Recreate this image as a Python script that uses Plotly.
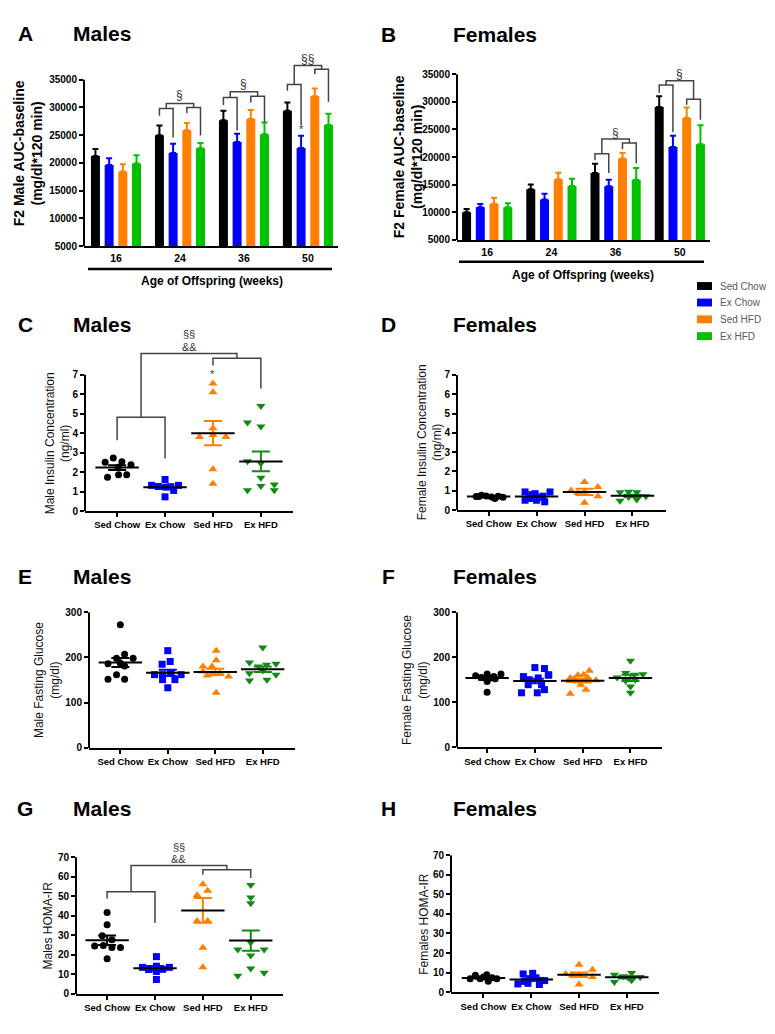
import plotly.graph_objects as go

W, H = 775, 1034
FONT = "Arial, 'Liberation Sans', sans-serif"

groups = ["Sed Chow", "Ex Chow", "Sed HFD", "Ex HFD"]
ages = ["16", "24", "36", "50"]

# ---------------- Panel A (male AUC, mean + SEM) ----------------
a_sed_chow = [21250, 25000, 27680, 29400]
a_ex_chow = [19640, 21790, 23750, 22680]
a_sed_hfd = [18450, 25890, 27920, 32020]
a_ex_hfd = [19880, 22620, 25180, 26850]
a_sed_chow_err = [1250, 1730, 1720, 1490]
a_ex_chow_err = [1190, 1660, 1490, 2200]
a_sed_hfd_err = [1310, 1310, 1600, 1370]
a_ex_hfd_err = [1490, 950, 2080, 2020]

# ---------------- Panel B (female AUC) ----------------
b_sed_chow = [10010, 14180, 17110, 29040]
b_ex_chow = [10900, 12340, 14720, 21820]
b_sed_hfd = [11560, 15980, 19730, 27070]
b_ex_hfd = [10900, 14780, 15910, 22300]
b_sed_chow_err = [590, 840, 1670, 1960]
b_ex_chow_err = [610, 1010, 1190, 2030]
b_sed_hfd_err = [1070, 1190, 1010, 1910]
b_ex_hfd_err = [720, 1310, 2090, 3460]

# significance brackets: (age index, left h, left legs, right h, right legs, top h, label, label y)
a_brackets = [
    (1, 29820, (28510, 24580), 30000, (28930, 24940), 30710, "§", 32200),
    (2, 31790, (30420, 25830), 32020, (30890, 27320), 32800, "§", 34170),
    (3, 34110, (32980, 26850), 36850, (35950, 31010), 37560, "§§", 38750),
]
a_star = (3, 1, 26100)
b_brackets = [
    (2, 20620, (19430, 17110), 22530, (21460, 18900), 23250, "§", 24380),
    (3, 33030, (31660, 24560), 30470, (29450, 26770), 33810, "§", 35000),
]

# ---------------- Panel C (male insulin) ----------------
c_sed_chow = [2.72, 2.50, 2.53, 2.38, 2.25, 1.74, 1.87, 1.87]
c_ex_chow = [1.62, 1.32, 1.26, 1.23, 1.25, 1.32, 1.06, 0.73]
c_sed_hfd = [6.55, 6.10, 4.25, 3.80, 3.90, 3.80, 2.15, 1.40]
c_ex_hfd = [4.54, 5.39, 4.34, 2.56, 2.46, 1.71, 1.29, 1.37, 1.07, 1.07]
c_mean = [2.23, 1.22, 4.00, 2.55]
c_sem = [0.12, 0.09, 0.62, 0.51]
c_sed_chow_dx = [-0.08, -0.25, 0.10, 0.29, 0.02, -0.20, 0.03, 0.20]
c_ex_chow_dx = [0.0, -0.28, -0.14, 0.02, 0.12, 0.28, 0.18, 0.0]
c_sed_hfd_dx = [0.0, 0.0, 0.0, -0.28, 0.0, 0.27, 0.0, 0.0]
c_ex_hfd_dx = [-0.28, 0.0, 0.0, -0.28, 0.0, 0.0, 0.0, 0.28, 0.28, -0.28]

# ---------------- Panel D (female insulin) ----------------
d_sed_chow = [0.70, 0.77, 0.73, 0.68, 0.60, 0.72, 0.66, 0.70]
d_ex_chow = [0.94, 0.60, 0.85, 0.43, 0.94, 0.51, 0.72, 0.51, 0.80, 0.65]
d_sed_hfd = [1.02, 1.45, 0.95, 1.19, 0.72, 0.38, 0.88]
d_ex_hfd = [0.93, 0.95, 0.93, 0.48, 0.68, 0.55, 0.72]
d_mean = [0.71, 0.70, 0.94, 0.74]
d_sem = [0.03, 0.06, 0.16, 0.06]
d_sed_chow_dx = [-0.26, -0.15, -0.05, 0.06, 0.13, 0.20, 0.30, -0.20]
d_ex_chow_dx = [-0.24, -0.14, -0.03, 0.17, 0.28, -0.24, 0.13, 0.0, -0.10, 0.06]
d_sed_hfd_dx = [-0.28, 0.0, 0.0, 0.28, 0.28, 0.0, -0.14]
d_ex_hfd_dx = [-0.26, -0.08, 0.09, -0.26, -0.08, 0.09, 0.28]

# ---------------- Panel E (male fasting glucose) ----------------
e_sed_chow = [272, 207, 198, 198, 186, 187, 181, 162, 152, 152]
e_ex_chow = [215, 191, 185, 162, 162, 166, 162, 151, 151, 133]
e_sed_hfd = [215, 194, 180, 180, 169, 165, 163, 158, 122, 160]
e_ex_hfd = [222, 189, 180, 184, 186, 171, 165, 162, 151, 149]
e_mean = [189, 166, 168, 174]
e_sem = [10, 7, 7, 6]
e_sed_chow_dx = [0.0, 0.09, -0.08, 0.27, -0.26, 0.0, 0.09, -0.08, -0.26, 0.09]
e_ex_chow_dx = [0.0, 0.05, -0.12, -0.28, -0.11, 0.07, 0.28, -0.11, 0.15, 0.0]
e_sed_hfd_dx = [0.02, 0.02, -0.26, -0.07, -0.26, 0.10, -0.07, 0.28, 0.02, -0.17]
e_ex_hfd_dx = [0.0, -0.28, -0.09, 0.08, 0.28, 0.0, -0.28, 0.28, 0.09, -0.28]

# ---------------- Panel F (female fasting glucose) ----------------
f_sed_chow = [159, 155, 163, 157, 163, 146, 152, 154, 122]
f_ex_chow = [177, 175, 157, 161, 154, 139, 139, 121, 121, 128, 150, 160]
f_sed_hfd = [170, 154, 160, 161, 149, 147, 139, 128, 119, 152, 155]
f_ex_hfd = [192, 155, 165, 161, 162, 148, 135, 121, 150]
f_mean = [154, 147, 148, 154]
f_sem = [4, 5, 4, 7]
f_sed_chow_dx = [-0.24, -0.12, 0.0, 0.14, 0.29, 0.0, 0.17, 0.07, 0.0]
f_ex_chow_dx = [0.0, 0.20, -0.24, 0.29, 0.07, -0.14, 0.14, -0.28, 0.05, 0.20, -0.12, 0.28]
f_sed_hfd_dx = [0.14, -0.26, -0.10, 0.02, 0.28, -0.26, -0.04, 0.07, -0.26, -0.18, 0.10]
f_ex_hfd_dx = [0.0, -0.28, -0.10, 0.08, 0.26, -0.10, 0.0, 0.0, 0.10]

# ---------------- Panel G (male HOMA-IR) ----------------
g_sed_chow = [41.7, 35.4, 29.8, 27.8, 24.6, 24.8, 23.8, 23.8, 18.0]
g_ex_chow = [19.1, 13.6, 12.8, 14.2, 12.6, 13.6, 11.5, 7.4, 12.5]
g_sed_hfd = [56.2, 50.6, 52.8, 37.3, 37.3, 23.6, 13.7]
g_ex_hfd = [55.8, 49.4, 46.5, 22.8, 22.8, 26.3, 19.7, 13.0, 9.3, 10.8]
g_mean = [27.5, 13.2, 42.8, 27.3]
g_sem = [2.4, 1.1, 6.4, 5.2]
g_sed_chow_dx = [0.0, 0.0, -0.10, 0.10, -0.26, -0.08, 0.10, 0.28, 0.0]
g_ex_chow_dx = [0.03, -0.26, -0.13, 0.03, 0.16, 0.30, 0.03, 0.03, -0.13]
g_sed_hfd_dx = [0.0, -0.12, 0.10, -0.12, 0.10, 0.0, 0.0]
g_ex_hfd_dx = [0.0, 0.0, 0.0, -0.27, 0.28, 0.0, 0.0, 0.0, -0.27, 0.28]

# ---------------- Panel H (female HOMA-IR) ----------------
h_sed_chow = [6.9, 8.6, 6.9, 8.9, 7.3, 5.6, 6.9, 7.8]
h_ex_chow = [4.2, 9.3, 9.6, 4.5, 5.9, 3.9, 6.9, 7.3, 6.0, 5.5]
h_sed_hfd = [14.0, 9.3, 11.5, 8.9, 7.8, 3.9, 8.5]
h_ex_hfd = [8.9, 5.2, 8.1, 9.8, 6.1, 7.8, 7.3]
h_mean = [7.2, 6.4, 8.9, 7.6]
h_sem = [0.4, 0.6, 1.2, 0.6]
h_sed_chow_dx = [-0.28, -0.17, -0.07, 0.07, 0.18, 0.10, 0.28, 0.0]
h_ex_chow_dx = [-0.28, -0.17, 0.03, -0.07, 0.28, 0.17, -0.03, 0.10, 0.20, -0.14]
h_sed_hfd_dx = [0.0, -0.28, 0.28, 0.0, 0.28, 0.0, -0.14]
h_ex_hfd_dx = [-0.26, -0.26, -0.07, 0.10, 0.10, 0.28, 0.03]

# brackets for C and G: (low legs, low h, high legs, high h, top h, label1 y, label2 y)
c_brackets = ((3.63, 2.70), 4.81, (7.47, 6.29), 7.84, 8.09, 9.10, 8.40)
c_star = (2, 7.05)
g_brackets = ((48.9, 36.3), 52.3, (61.1, 59.4), 63.6, 65.8, 75.4, 68.9)

# ---------------- styles / geometry ----------------
BAR_COLORS = ["#000000", "#0000FF", "#FF8000", "#00C000"]
SC_COLORS = ["#000000", "#0000FF", "#FF7F00", "#118A11"]
SYMBOLS = ["circle", "square", "triangle-up", "triangle-down"]
SIZES = [7, 7, 8, 8]
BRK = "#444444"
BARGAP = 0.144
BARGROUPGAP = 0.345

# n: (x left px, x right px, x range, y px of lo, y px of hi, lo, hi, range top, y ticks)
GEOM = {
    1: (84, 338, [-0.5, 3.47], 243, 74.5, 5000, 35000, 39500, list(range(5000, 35001, 5000))),
    2: (457, 710, [-0.47, 3.47], 236.7, 69, 5000, 35000, 36000, list(range(5000, 35001, 5000))),
    3: (85, 293, [-0.67, 3.67], 511, 373, 0, 7, 9.5, list(range(0, 8))),
    4: (457, 666, [-0.66, 3.70], 510, 373.3, 0, 7, 7, list(range(0, 8))),
    5: (89, 295, [-0.66, 3.68], 750.7, 613.3, 0, 300, 300, [0, 100, 200, 300]),
    6: (457, 662, [-0.63, 3.66], 750, 613.3, 0, 300, 300, [0, 100, 200, 300]),
    7: (76, 283.3, [-0.65, 3.68], 999.5, 861.3, 0, 70, 77, list(range(0, 71, 10))),
    8: (451, 659.3, [-0.68, 3.68], 997.7, 859.3, 0, 70, 70, list(range(0, 71, 10))),
}


def ids(n):
    return ("x" if n == 1 else f"x{n}"), ("y" if n == 1 else f"y{n}")


def px_x(p):
    return p / W


def px_y(p):
    return 1 - p / H


fig = go.Figure()
shapes = []
annotations = []


def ann(x, y, text, size, bold=False, color="#000000", angle=0, xanchor="center", yanchor="middle"):
    annotations.append(dict(
        xref="paper", yref="paper", x=px_x(x), y=px_y(y), text=text, showarrow=False,
        textangle=angle, xanchor=xanchor, yanchor=yanchor,
        font=dict(family=FONT, size=size, color=color, weight="bold" if bold else "normal")))


def bracket(n, xa, ya, xb, yb, h):
    xr, yr = ids(n)
    shapes.append(dict(type="path", xref=xr, yref=yr,
                       path=f"M{xa},{ya} L{xa},{h} L{xb},{h} L{xb},{yb}",
                       line=dict(color=BRK, width=1.5)))


def data_text(n, x, y, text, size=12):
    xr, yr = ids(n)
    annotations.append(dict(xref=xr, yref=yr, x=x, y=y, text=text, showarrow=False,
                            xanchor="center", yanchor="middle",
                            font=dict(family=FONT, size=size, color="#333333")))


# ---------------- bar panels ----------------
slot = (1 - BARGAP) / 4


def bar_x(g, k):
    return g + (k - 1.5) * slot


bar_sets = {
    1: ([a_sed_chow, a_ex_chow, a_sed_hfd, a_ex_hfd],
        [a_sed_chow_err, a_ex_chow_err, a_sed_hfd_err, a_ex_hfd_err]),
    2: ([b_sed_chow, b_ex_chow, b_sed_hfd, b_ex_hfd],
        [b_sed_chow_err, b_ex_chow_err, b_sed_hfd_err, b_ex_hfd_err]),
}
for n, (means, errs) in bar_sets.items():
    xr, yr = ids(n)
    for k in range(4):
        fig.add_trace(go.Bar(
            x=list(range(len(ages))), y=means[k], name=groups[k], xaxis=xr, yaxis=yr,
            marker=dict(color=BAR_COLORS[k], line=dict(width=0)),
            error_y=dict(type="data", symmetric=False, array=errs[k], arrayminus=[0] * len(ages),
                         color=BAR_COLORS[k], thickness=2, width=3),
            showlegend=False, hoverinfo="skip"))

for n, brs in ((1, a_brackets), (2, b_brackets)):
    for g, hl, legl, hr, legr, ht, lab, laby in brs:
        xs = [bar_x(g, k) for k in range(4)]
        bracket(n, xs[0], legl[0], xs[1], legl[1], hl)
        bracket(n, xs[2], legr[0], xs[3], legr[1], hr)
        ml = (xs[0] + xs[1]) / 2
        mr = (xs[2] + xs[3]) / 2
        bracket(n, ml, hl, mr, hr, ht)
        data_text(n, (ml + mr) / 2, laby, lab, 12)
data_text(1, bar_x(a_star[0], a_star[1]), a_star[2], "*", 11)

# ---------------- scatter panels ----------------
scatter_sets = {
    3: ([c_sed_chow, c_ex_chow, c_sed_hfd, c_ex_hfd],
        [c_sed_chow_dx, c_ex_chow_dx, c_sed_hfd_dx, c_ex_hfd_dx], c_mean, c_sem),
    4: ([d_sed_chow, d_ex_chow, d_sed_hfd, d_ex_hfd],
        [d_sed_chow_dx, d_ex_chow_dx, d_sed_hfd_dx, d_ex_hfd_dx], d_mean, d_sem),
    5: ([e_sed_chow, e_ex_chow, e_sed_hfd, e_ex_hfd],
        [e_sed_chow_dx, e_ex_chow_dx, e_sed_hfd_dx, e_ex_hfd_dx], e_mean, e_sem),
    6: ([f_sed_chow, f_ex_chow, f_sed_hfd, f_ex_hfd],
        [f_sed_chow_dx, f_ex_chow_dx, f_sed_hfd_dx, f_ex_hfd_dx], f_mean, f_sem),
    7: ([g_sed_chow, g_ex_chow, g_sed_hfd, g_ex_hfd],
        [g_sed_chow_dx, g_ex_chow_dx, g_sed_hfd_dx, g_ex_hfd_dx], g_mean, g_sem),
    8: ([h_sed_chow, h_ex_chow, h_sed_hfd, h_ex_hfd],
        [h_sed_chow_dx, h_ex_chow_dx, h_sed_hfd_dx, h_ex_hfd_dx], h_mean, h_sem),
}
for n, (vals, dxs, means, sems) in scatter_sets.items():
    xr, yr = ids(n)
    for g in range(4):
        fig.add_trace(go.Scatter(
            x=[g + d for d in dxs[g]], y=vals[g], mode="markers", xaxis=xr, yaxis=yr,
            marker=dict(symbol=SYMBOLS[g], size=SIZES[g], color=SC_COLORS[g], line=dict(width=0)),
            showlegend=False, hoverinfo="skip", cliponaxis=False))
    for g in range(4):
        fig.add_trace(go.Scatter(
            x=[g], y=[means[g]], mode="markers", xaxis=xr, yaxis=yr,
            marker=dict(symbol="line-ew", size=31, color="#000000",
                        line=dict(color="#000000", width=2)),
            error_y=dict(type="data", array=[sems[g]], color=SC_COLORS[g], thickness=2, width=9),
            showlegend=False, hoverinfo="skip", cliponaxis=False))

for n, br in ((3, c_brackets), (7, g_brackets)):
    lowlegs, lowh, highlegs, highh, toph, l1y, l2y = br
    bracket(n, 0, lowlegs[0], 1, lowlegs[1], lowh)
    bracket(n, 2, highlegs[0], 3, highlegs[1], highh)
    bracket(n, 0.5, lowh, 2.5, highh, toph)
    data_text(n, 1.5, l1y, "§§", 11)
    data_text(n, 1.5, l2y, "&&", 11)
data_text(3, c_star[0], c_star[1], "*", 11)

# ---------------- axes ----------------
layout_axes = {}
for n, (xl, xrp, xrng, yb, yt, lo, hi, top, yticks) in GEOM.items():
    xr, yr = ids(n)
    top_px = yb - (top - lo) / (hi - lo) * (yb - yt)
    is_bar = n in (1, 2)
    layout_axes["xaxis" if n == 1 else f"xaxis{n}"] = dict(
        domain=[px_x(xl), px_x(xrp)], range=xrng, anchor=yr,
        showline=True, linecolor="#000000", linewidth=2,
        ticks="outside", ticklen=1 if is_bar else 4, tickwidth=2,
        tickcolor="rgba(0,0,0,0)" if is_bar else "#000000",
        tickvals=[0, 1, 2, 3], ticktext=ages if is_bar else groups,
        tickfont=dict(family=FONT, size=10.5 if is_bar else 9.5, color="#000000", weight="bold"),
        showgrid=False, zeroline=False, fixedrange=True)
    layout_axes["yaxis" if n == 1 else f"yaxis{n}"] = dict(
        domain=[px_y(yb), px_y(top_px)], range=[lo, top], anchor=xr,
        showline=False, ticks="outside", ticklen=4, tickwidth=2, tickcolor="#000000",
        tickvals=yticks, tickformat="d",
        tickfont=dict(family=FONT, size=10, color="#000000", weight="bold"),
        showgrid=False, zeroline=False, fixedrange=True)
    shapes.append(dict(type="line", xref=f"{xr} domain", yref=yr, x0=0, x1=0, y0=lo, y1=hi,
                       line=dict(color="#000000", width=2)))

# ---------------- text decorations ----------------
for letter, lx, ly, title, tx in [("A", 25, 28, "Males", 102), ("B", 388, 29, "Females", 495),
                                  ("C", 25, 322, "Males", 102), ("D", 388, 322, "Females", 495),
                                  ("E", 25, 577, "Males", 102), ("F", 388, 577, "Females", 495),
                                  ("G", 25, 812, "Males", 102), ("H", 388, 812, "Females", 495)]:
    ann(lx, ly, letter, 21, bold=True)
    ann(tx, ly, title, 21, bold=True)

ann(28, 149, "F2 Male AUC-baseline<br>(mg/dl*120 min)", 14, bold=True, angle=-90)
ann(407.5, 152.5, "F2 Female AUC-baseline<br>(mg/dl*120 min)", 14, bold=True, angle=-90)
ann(57.5, 442, "Male Insulin Concentration<br>(ng/ml)", 12, angle=-90, color="#111111")
ann(429.5, 442, "Female Insulin Concentration<br>(ng/ml)", 12, angle=-90, color="#111111")
ann(47, 682, "Male Fasting Glucose<br>(mg/dl)", 12, angle=-90, color="#111111")
ann(415, 682, "Female Fasting Glucose<br>(mg/dl)", 12, angle=-90, color="#111111")
ann(48.3, 930, "Males HOMA-IR", 12, angle=-90, color="#111111")
ann(423.3, 928.3, "Females HOMA-IR", 12, angle=-90, color="#111111")

# "Age of Offspring" underline and label
for x0, x1, ly, tx, ty in [(88, 332, 266, 211.7, 278), (459, 704, 258.7, 583.3, 272.3)]:
    shapes.append(dict(type="line", xref="paper", yref="paper", x0=px_x(x0), x1=px_x(x1),
                       y0=px_y(ly), y1=px_y(ly), line=dict(color="#000000", width=2.5)))
    ann(tx, ty, "Age of Offspring (weeks)", 12, bold=True)

# legend
for k, (name, ly) in enumerate(zip(groups, [283.3, 300, 317, 334])):
    shapes.append(dict(type="rect", xref="paper", yref="paper",
                       x0=px_x(697), x1=px_x(712), y0=px_y(ly - 4), y1=px_y(ly + 4),
                       fillcolor=BAR_COLORS[k], line=dict(width=0)))
    ann(718, ly, name, 10, color="#5a5a5a", xanchor="left")

fig.update_layout(
    width=W, height=H, margin=dict(l=0, r=0, t=0, b=0),
    paper_bgcolor="white", plot_bgcolor="white",
    barmode="group", bargap=BARGAP, bargroupgap=BARGROUPGAP,
    showlegend=False, font=dict(family=FONT, color="#000000"),
    shapes=shapes, annotations=annotations, **layout_axes)

fig.write_html("out.html", config={"displayModeBar": False},
               post_script="document.body.style.margin='0px';")
